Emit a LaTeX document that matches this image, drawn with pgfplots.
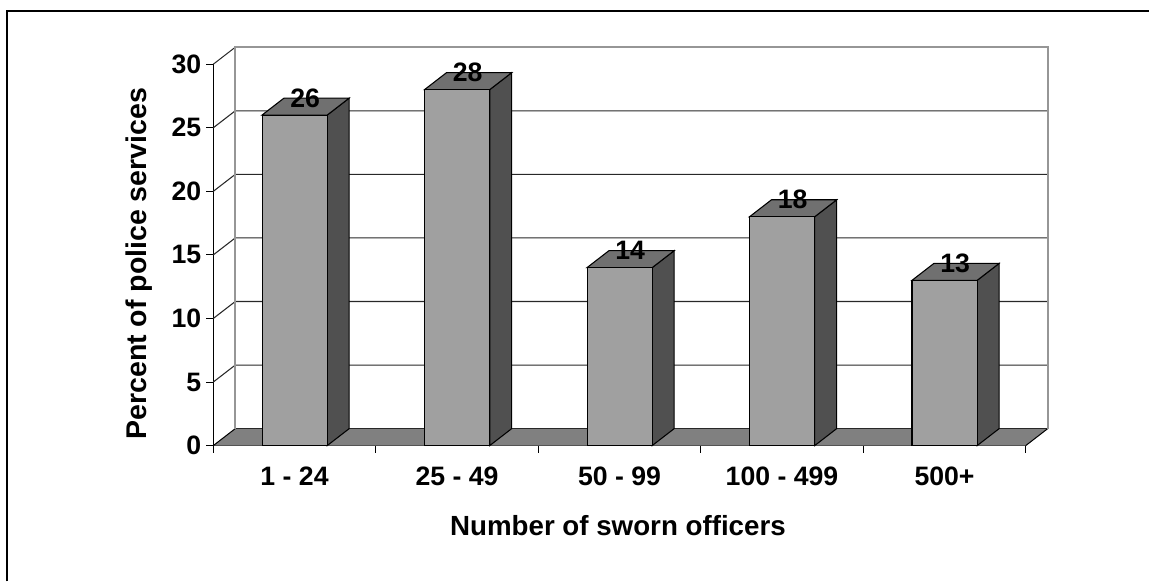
\documentclass[border=0pt]{standalone}
\usepackage{pgfplots}
\pgfplotsset{compat=1.18}
\usepackage{fontspec}
\setmainfont{Liberation Sans}
\definecolor{front}{HTML}{A0A0A0}
\definecolor{side}{HTML}{505050}
\definecolor{topf}{HTML}{707070}
\definecolor{floorc}{HTML}{808080}
\definecolor{wall}{HTML}{969696}
\definecolor{gridc}{HTML}{282828}
% one 3D bar: integer slot, value, value plus depth rise
\newcommand{\threedbar}[3]{%
  \addplot[draw=black,line width=0.8pt,fill=side] coordinates {(#1.7011,0)(#1.8364,1.336)(#1.8364,#3)(#1.7011,#2)} -- cycle;
  \addplot[draw=black,line width=0.8pt,fill=topf] coordinates {(#1.3,#2)(#1.7011,#2)(#1.8364,#3)(#1.4353,#3)} -- cycle;
  \addplot[draw=black,line width=0.8pt,fill=front] coordinates {(#1.3,0)(#1.7011,0)(#1.7011,#2)(#1.3,#2)} -- cycle;
}
\newcommand{\gridl}[2]{%
  \addplot[gridc,line width=0.8pt] coordinates {(0,#1)(0.1353,#2)(5.1353,#2)};
}
\begin{document}
\begin{tikzpicture}[x=0.75pt,y=0.75pt,font=\bfseries\fontsize{20}{22}\selectfont]
\path (0,0) rectangle (1150,582);
\draw[line width=1.6pt] (7,0) -- (7,571) -- (1150,571);
\begin{axis}[
  at={(160.125pt,102pt)},anchor=south west,
  scale only axis,width=609.9pt,height=286.3pt,
  xmin=0,xmax=5,ymin=0,ymax=30,clip=false,
  axis lines=left,axis line style={-,black,line width=0.75pt},
  tick align=outside,
  xtick={0.5,1.5,2.5,3.5,4.5},
  xticklabels={1 - 24,25 - 49,50 - 99,100 - 499,500+},
  minor xtick={0,1,2,3,4,5},
  major x tick style={draw=none},
  minor tick length=5.25pt,
  minor x tick style={black,line width=0.75pt},
  ytick={0,5,10,15,20,25,30},
  y tick style={black,line width=0.75pt},
  major tick length=5.25pt,
  yticklabel style={font=\bfseries\fontsize{20}{22}\selectfont,inner sep=0pt,xshift=-3.6pt},
  xticklabel style={font=\bfseries\fontsize{20}{22}\selectfont,inner sep=0pt,anchor=center,yshift=-18pt},
  /pgf/number format/assume math mode=true,
]
\addplot[draw=none,fill=floorc] coordinates {(0,0)(5,0)(5.1353,1.336)(0.1353,1.336)} -- cycle;
\addplot[gridc,line width=0.75pt] coordinates {(0.1353,1.336)(5.1353,1.336)};
\addplot[black,line width=0.75pt] coordinates {(0,0)(0.1353,1.336)};
\addplot[black,line width=0.75pt] coordinates {(5,0)(5.1353,1.336)};
\gridl{5}{6.336}
\gridl{10}{11.336}
\gridl{15}{16.336}
\gridl{20}{21.336}
\gridl{25}{26.336}
\addplot[gridc,line width=0.75pt] coordinates {(0,30)(0.1353,31.336)};
\addplot[wall,line width=1.3pt] coordinates {(0.1353,1.336)(0.1353,31.336)(5.1353,31.336)(5.1353,1.336)};
\threedbar{0}{26}{27.336}
\threedbar{1}{28}{29.336}
\threedbar{2}{14}{15.336}
\threedbar{3}{18}{19.336}
\threedbar{4}{13}{14.336}
\addplot[draw=none,mark=none,point meta=explicit symbolic,
  nodes near coords,
  nodes near coords style={anchor=center,inner sep=0pt,font=\bfseries\fontsize{20}{22}\selectfont}]
  coordinates {(0.5654,27.336)[26](1.5654,29.336)[28](2.5654,15.336)[14](3.5654,19.336)[18](4.5654,14.336)[13]};
\end{axis}
\node[font=\bfseries\fontsize{20.8}{23}\selectfont] at (618.5,56) {Number of sworn officers};
\node[font=\bfseries\fontsize{21.4}{23}\selectfont,rotate=90] at (139.5,318) {Percent of police services};
\end{tikzpicture}
\end{document}
